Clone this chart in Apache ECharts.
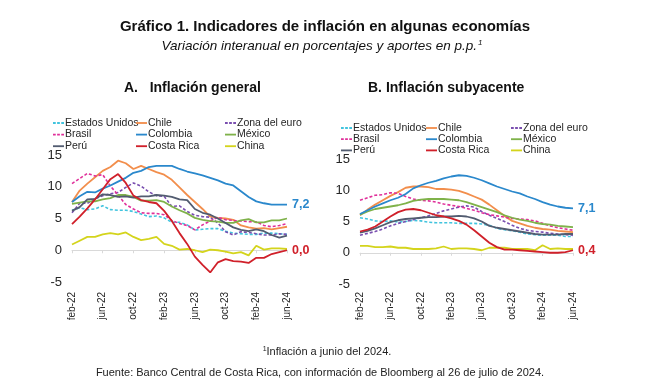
<!DOCTYPE html>
<html>
<head>
<meta charset="utf-8">
<script src="https://cdn.jsdelivr.net/npm/echarts@6/dist/echarts.min.js"></script>
<style>
html,body{margin:0;padding:0;background:#fff;}
#chart{width:654px;height:383px;}
</style>
</head>
<body>
<div id="chart"></div>
<script>
// ---- Data ----
const months = ['feb-22','mar-22','abr-22','may-22','jun-22','jul-22','ago-22','sep-22','oct-22','nov-22','dic-22',
  'ene-23','feb-23','mar-23','abr-23','may-23','jun-23','jul-23','ago-23','sep-23','oct-23','nov-23','dic-23',
  'ene-24','feb-24','mar-24','abr-24','may-24','jun-24'];
const yTicks = [-5, 0, 5, 10, 15];
const seriesNames = ['Estados Unidos','Chile','Zona del euro','Brasil','Colombia','México','Perú','Costa Rica','China'];

// Panel A: Inflación general
const generalEEUU     = [6.3,6.7,6.4,6.5,7.0,6.4,6.3,6.3,6.1,5.7,5.3,5.4,5.1,4.4,4.4,4.0,3.2,3.3,3.4,3.4,3.0,2.7,2.6,2.5,2.5,2.7,2.7,2.6,2.5];
const generalChile    = [7.6,9.4,10.5,11.5,12.5,13.1,14.1,13.7,12.8,13.3,12.8,12.3,11.9,11.1,9.9,8.7,7.6,6.5,5.3,5.1,5.0,4.8,3.9,3.6,3.4,3.5,3.3,3.5,3.7];
const generalEuro     = [5.9,7.4,7.4,8.1,8.6,8.9,9.1,9.9,10.6,10.1,9.2,8.6,8.5,6.9,7.0,6.1,5.5,5.3,5.2,4.3,2.9,2.4,2.9,2.8,2.6,2.4,2.4,2.6,2.5];
const generalBrasil   = [10.5,11.3,12.1,11.7,11.9,10.1,8.7,7.2,6.5,5.9,5.8,5.8,5.6,4.7,4.2,3.9,3.2,4.0,4.6,5.2,4.8,4.7,4.6,4.5,4.5,3.9,3.7,3.9,4.2];
const generalColombia = [7.6,8.5,9.2,9.1,9.7,10.2,10.8,11.4,12.2,12.5,13.1,13.3,13.3,13.3,12.8,12.4,12.1,11.8,11.4,11.0,10.5,10.2,9.3,8.4,7.7,7.4,7.2,7.2,7.2];
const generalMexico   = [7.3,7.5,7.7,7.7,8.0,8.2,8.7,8.7,8.4,7.8,7.8,7.9,7.6,6.9,6.3,5.8,5.1,4.8,4.6,4.5,4.3,4.3,4.7,4.9,4.4,4.4,4.7,4.7,5.0];
const generalPeru     = [6.2,6.8,8.0,8.1,8.8,8.7,8.4,8.5,8.3,8.5,8.5,8.7,8.6,8.4,8.0,7.9,6.5,5.9,5.6,5.0,4.3,3.6,3.2,3.0,3.3,3.0,2.4,2.0,2.3];
const generalCR       = [4.1,5.3,6.6,8.0,9.6,11.2,12.0,10.6,8.6,7.9,7.6,7.4,6.2,4.6,2.7,1.0,-1.0,-2.3,-3.5,-1.9,-1.4,-1.7,-1.8,-2.0,-1.2,-1.2,-0.6,-0.3,0.0];
const generalChina    = [0.9,1.5,2.1,2.1,2.5,2.7,2.5,2.8,2.1,1.6,1.8,2.1,1.0,0.7,0.1,0.2,0.0,-0.3,0.1,0.0,-0.2,-0.5,-0.3,-0.8,0.7,0.1,0.3,0.3,0.2];

// Panel B: Inflación subyacente
const coreEEUU     = [5.6,5.4,5.1,5.0,5.1,4.9,5.0,5.2,5.1,4.9,4.8,4.8,4.8,4.7,4.7,4.7,4.6,4.4,3.9,3.7,3.5,3.3,3.0,2.9,2.8,2.8,2.8,2.6,2.6];
const coreChile    = [6.0,6.9,7.7,8.4,9.1,9.7,10.4,10.6,10.6,10.5,10.2,10.2,10.1,9.9,9.5,9.0,8.5,7.7,6.8,5.9,5.1,4.7,4.3,4.0,3.8,3.7,3.5,3.4,3.3];
const coreEuro     = [2.8,3.1,3.4,3.8,4.3,4.7,5.0,5.3,5.6,5.9,6.3,6.7,7.0,7.3,7.5,7.3,6.6,6.0,5.5,5.0,4.4,3.9,3.6,3.4,3.3,3.1,3.0,2.9,2.8];
const coreBrasil   = [8.4,8.8,9.2,9.3,9.6,9.5,9.0,8.6,8.4,8.3,8.1,7.8,7.6,7.4,7.1,6.8,6.4,6.1,5.9,5.7,5.5,5.4,5.3,5.1,4.7,4.3,4.0,3.8,3.6];
const coreColombia = [6.2,6.8,7.4,7.9,8.4,8.8,9.4,10.3,10.8,11.2,11.5,11.9,12.2,12.4,12.3,12.0,11.6,11.1,10.6,10.2,9.8,9.5,9.0,8.6,8.1,7.7,7.4,7.2,7.1];
const coreMexico   = [6.1,6.6,7.0,7.2,7.4,7.6,7.9,8.3,8.5,8.6,8.6,8.6,8.5,8.4,8.1,7.7,7.3,6.9,6.5,6.0,5.6,5.3,5.1,4.8,4.6,4.5,4.3,4.2,4.1];
const corePeru     = [3.2,3.5,3.9,4.4,4.9,5.2,5.4,5.5,5.6,5.7,5.7,5.8,5.8,5.9,5.8,5.5,5.0,4.3,4.0,3.8,3.6,3.4,3.2,3.0,2.9,2.9,2.9,3.0,3.0];
const coreCR       = [3.4,3.7,4.2,5.0,5.8,6.5,6.9,7.0,6.8,6.4,6.0,5.8,5.5,5.1,4.5,3.6,2.6,1.6,0.9,0.5,0.5,0.4,0.3,0.2,0.1,0.0,0.0,0.1,0.4];
const coreChina    = [1.1,1.1,0.9,0.9,1.0,0.8,0.8,0.6,0.6,0.6,0.7,1.0,0.6,0.7,0.7,0.6,0.4,0.8,0.8,0.8,0.6,0.6,0.6,0.4,1.2,0.6,0.7,0.6,0.6];

// ---- Styling ----
const FONT = '"Liberation Sans", Arial, sans-serif';
const styles = {
  'Estados Unidos': {color:'#41c4de', dash:[3,2]},
  'Chile':          {color:'#f28e4c', dash:null},
  'Zona del euro':  {color:'#7a4fb0', dash:[3,2]},
  'Brasil':         {color:'#e0309a', dash:[3,2]},
  'Colombia':       {color:'#2a88cc', dash:null},
  'México':         {color:'#7fb24a', dash:null},
  'Perú':           {color:'#525c70', dash:null},
  'Costa Rica':     {color:'#d0202a', dash:null},
  'China':          {color:'#d4d41c', dash:null}
};
const ICON_SOLID  = 'path://M0,0h12v2h-12z';
const ICON_DASHED = 'path://M0,0h3v2h-3zM4.5,0h3v2h-3zM9,0h3v2h-3z';

const panelA = [generalEEUU, generalChile, generalEuro, generalBrasil, generalColombia, generalMexico, generalPeru, generalCR, generalChina];
const panelB = [coreEEUU, coreChile, coreEuro, coreBrasil, coreColombia, coreMexico, corePeru, coreCR, coreChina];

function mkSeries(values, gi) {
  return seriesNames.map((name, k) => {
    const st = styles[name];
    const s = {
      name, type:'line', xAxisIndex:gi, yAxisIndex:gi, data: values[k],
      symbol:'none', smooth:false, animation:false,
      lineStyle:{color:st.color, width: st.dash ? 1.6 : 1.8, type: st.dash || 'solid'},
      itemStyle:{color:st.color},
      z: (name === 'Colombia' || name === 'Costa Rica') ? 4 : 3
    };
    if (name === 'Colombia' || name === 'Costa Rica') {
      s.endLabel = {
        show:true, distance:5, color:st.color, fontFamily:FONT, fontWeight:'bold', fontSize:12.5,
        formatter: p => Number(p.value).toFixed(1).replace('.', ',')
      };
    }
    return s;
  });
}

function mkX(gi) {
  return {
    type:'category', gridIndex:gi, data:months, boundaryGap:false,
    axisLine:{show:true, onZero:true, lineStyle:{color:'#d9d9d9', width:1}},
    axisTick:{show:true, interval:3, length:3, lineStyle:{color:'#d9d9d9'}},
    axisLabel:{interval:3, rotate:90, margin: gi === 0 ? 10 : 8, fontFamily:FONT, fontSize:10, color:'#262626'},
    splitLine:{show:false}
  };
}
function mkY(gi) {
  return {
    type:'value', gridIndex:gi, min:yTicks[0], max:yTicks[yTicks.length-1], interval:5,
    axisLine:{show:false}, axisTick:{show:false}, splitLine:{show:false},
    axisLabel:{margin:10, fontFamily:FONT, fontSize:13, color:'#262626'}
  };
}
function mkLegends(lefts, top, gap) {
  const cols = [['Estados Unidos','Brasil','Perú'], ['Chile','Colombia','Costa Rica'], ['Zona del euro','México','China']];
  return cols.map((c, j) => ({
    data:c.map(n => ({name:n, icon: styles[n].dash ? ICON_DASHED : ICON_SOLID, itemStyle:{color:styles[n].color}})),
    left:lefts[j], top:top, orient:'vertical', padding:0, itemGap:gap,
    itemWidth:11, itemHeight:2, selectedMode:false,
    textStyle:{fontFamily:FONT, fontSize:10.5, color:'#262626', padding:[0,0,0,-4]}
  }));
}

const chart = echarts.init(document.getElementById('chart'), null, {renderer:'canvas'});
chart.setOption({
  backgroundColor:'#ffffff',
  animation:false,
  grid:[
    {left:72, right:654-287, top:155, bottom:383-282},
    {left:360, right:654-573, top:159, bottom:383-284}
  ],
  xAxis:[mkX(0), mkX(1)],
  yAxis:[mkY(0), mkY(1)],
  legend: mkLegends([53,136,225], 117.5, 0.6).concat(mkLegends([341,426,511], 122.5, 0.2)),
  graphic:[
    {type:'text', x:325, y:27, style:{text:'Gráfico 1. Indicadores de inflación en algunas economías', font:'bold 15px ' + FONT, fill:'#111', textAlign:'center', textVerticalAlign:'middle'}},
    {type:'text', x:322, y:46, style:{
      text:'{a|Variación interanual en porcentajes y aportes en p.p.}{s|1}',
      textAlign:'center', textVerticalAlign:'middle',
      rich:{a:{font:'italic 13.5px ' + FONT, fill:'#111'}, s:{font:'italic 8px ' + FONT, fill:'#111', verticalAlign:'top', padding:[0,0,6,1]}}
    }},
    {type:'text', x:124, y:88, style:{text:'A.   Inflación general', font:'bold 14px ' + FONT, fill:'#111', textVerticalAlign:'middle'}},
    {type:'text', x:368, y:88, style:{text:'B. Inflación subyacente', font:'bold 14px ' + FONT, fill:'#111', textVerticalAlign:'middle'}},
    {type:'text', x:327, y:352, style:{
      text:'{s|1}{a|Inflación a junio del 2024.}', textAlign:'center', textVerticalAlign:'middle',
      rich:{a:{font:'11px ' + FONT, fill:'#222'}, s:{font:'7px ' + FONT, fill:'#222', padding:[0,0,5,0]}}
    }},
    {type:'text', x:320, y:373, style:{text:'Fuente: Banco Central de Costa Rica, con información de Bloomberg al 26 de julio de 2024.', font:'11px ' + FONT, fill:'#222', textAlign:'center', textVerticalAlign:'middle'}}
  ],
  series: mkSeries(panelA, 0).concat(mkSeries(panelB, 1))
});
</script>
</body>
</html>
